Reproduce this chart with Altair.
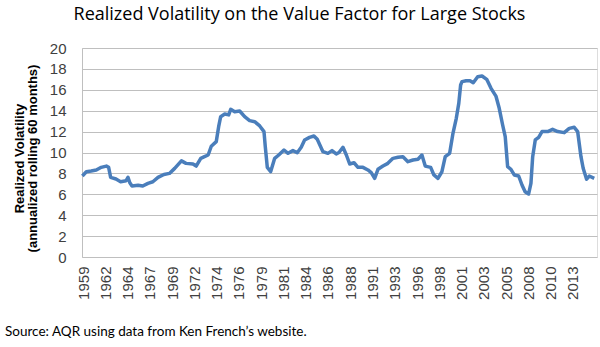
import altair as alt
import pandas as pd

years = [1959.85, 1960.28, 1960.8, 1961.36, 1961.9, 1962.45, 1962.7, 1962.92, 1963.5, 1964.0,
         1964.6, 1964.8, 1965.0, 1965.24, 1965.9, 1966.4, 1966.97, 1967.5, 1968.06, 1968.7,
         1969.3, 1969.87, 1970.6, 1971.1, 1971.85, 1972.2, 1972.7, 1973.1, 1973.5, 1973.84,
         1974.38, 1974.64, 1974.86, 1975.3, 1975.73, 1975.95, 1976.38, 1976.92, 1977.46, 1978.0,
         1978.55, 1979.1, 1979.56, 1979.7, 1979.92, 1980.29, 1980.72, 1981.16, 1981.73, 1982.17,
         1982.7, 1983.17, 1983.6, 1983.97, 1984.5, 1984.98, 1985.34, 1985.96, 1986.5, 1986.94,
         1987.4, 1987.7, 1988.13, 1988.5, 1988.86, 1989.33, 1989.76, 1990.3, 1990.84, 1991.2,
         1991.57, 1991.93, 1992.47, 1993.0, 1993.56, 1994.1, 1994.64, 1995.18, 1995.73, 1996.27,
         1996.7, 1997.06, 1997.65, 1998.0, 1998.44, 1998.87, 1999.23, 1999.71, 2000.07, 2000.43,
         2000.7, 2000.9, 2001.05, 2001.5, 2001.92, 2002.27, 2002.75, 2003.22, 2003.73, 2004.2,
         2004.73, 2005.09, 2005.46, 2005.74, 2006.0, 2006.36, 2006.72, 2007.2, 2007.56, 2007.9,
         2008.28, 2008.53, 2008.72, 2009.0, 2009.37, 2009.73, 2010.35, 2010.88, 2011.43, 2012.14,
         2012.69, 2013.23, 2013.6, 2013.96, 2014.2, 2014.57, 2014.86, 2015.4]

volatility = [7.75, 8.16, 8.23, 8.32, 8.58, 8.7, 8.58, 7.62, 7.46, 7.21,
              7.3, 7.62, 7.1, 6.79, 6.86, 6.79, 7.05, 7.2, 7.62, 7.9,
              8.0, 8.48, 9.2, 8.96, 8.9, 8.7, 9.44, 9.6, 9.76, 10.6,
              11.04, 12.47, 13.43, 13.68, 13.6, 14.13, 13.9, 13.97, 13.43, 13.05,
              12.95, 12.54, 12.0, 10.56, 8.58, 8.17, 9.44, 9.76, 10.24, 9.92,
              10.18, 9.98, 10.5, 11.2, 11.45, 11.58, 11.26, 10.08, 9.92, 10.18,
              9.86, 10.0, 10.5, 9.76, 8.9, 9.02, 8.58, 8.58, 8.33, 8.07,
              7.53, 8.39, 8.7, 8.96, 9.44, 9.54, 9.6, 9.12, 9.28, 9.35,
              9.76, 8.7, 8.58, 7.85, 7.53, 8.16, 9.6, 9.92, 11.84, 13.27,
              14.7, 16.46, 16.78, 16.87, 16.87, 16.68, 17.25, 17.32, 17.0, 16.14,
              15.4, 14.23, 12.63, 11.51, 8.64, 8.39, 7.85, 7.75, 6.89, 6.25,
              6.03, 7.05, 9.6, 11.2, 11.45, 12.0, 12.0, 12.22, 12.0, 11.9,
              12.31, 12.41, 12.0, 9.6, 8.49, 7.44, 7.75, 7.53]

tick_years = [1959.92, 1962.33, 1964.75, 1967.17, 1969.58, 1972.0, 1974.42, 1976.83,
              1979.25, 1981.67, 1984.08, 1986.5, 1988.92, 1991.33, 1993.75, 1996.17,
              1998.58, 2001.0, 2003.42, 2005.83, 2008.25, 2010.67, 2013.08]
y_ticks = [0, 2, 4, 6, 8, 10, 12, 14, 16, 18, 20]

title_text = "Realized Volatility on the Value Factor for Large Stocks"
y_title = ["Realized Volatility", "(annualized rolling 60 months)"]
source_text = "Source: AQR using data from Ken French\u2019s website."

df = pd.DataFrame({"year": years, "vol": volatility})

line = alt.Chart(df).mark_line(color="#4A7EBB", strokeWidth=3.5, strokeJoin="round").encode(
    x=alt.X("year:Q",
            scale=alt.Scale(domain=[1959.81, 2015.7], nice=False, zero=False),
            axis=alt.Axis(values=tick_years, labelExpr="floor(datum.value)", title=None,
                          grid=False, ticks=False, domain=False, labelAngle=-90,
                          labelFont="Liberation Sans", labelFontSize=15, labelColor="#404040",
                          labelPadding=9, labelOverlap=False)),
    y=alt.Y("vol:Q",
            scale=alt.Scale(domain=[0, 20], nice=False),
            axis=alt.Axis(values=y_ticks, title=y_title, grid=True, gridColor="#BFBFBF",
                          gridWidth=1, ticks=False, domain=True, domainColor="#BFBFBF",
                          labelFont="Liberation Sans", labelFontSize=15, labelColor="#404040",
                          labelPadding=16,
                          titleFont="Liberation Sans", titleFontSize=13, titleFontWeight="bold",
                          titleColor="black", titleLineHeight=13, titleX=-63, titleY=110,
                          titleAngle=-90, titleAlign="center", titleBaseline="middle")),
)

source = alt.Chart(pd.DataFrame({"t": [source_text]})).mark_text(
    align="left", baseline="alphabetic", font="Lato", fontSize=13.5, color="black"
).encode(x=alt.value(-77), y=alt.value(288), text="t:N")

chart = alt.layer(line, source).properties(
    width=515, height=209,
    title=alt.TitleParams(title_text, font="Open Sans", fontSize=18, fontWeight="normal",
                          color="black", anchor="middle", dx=-40, offset=17),
    autosize=alt.AutoSizeParams(type="none"),
    padding={"left": 82, "top": 48, "right": 3, "bottom": 90},
).configure_view(stroke=None).configure(background="white")

chart.save("out.html", embed_options={"renderer": "svg", "actions": False})
